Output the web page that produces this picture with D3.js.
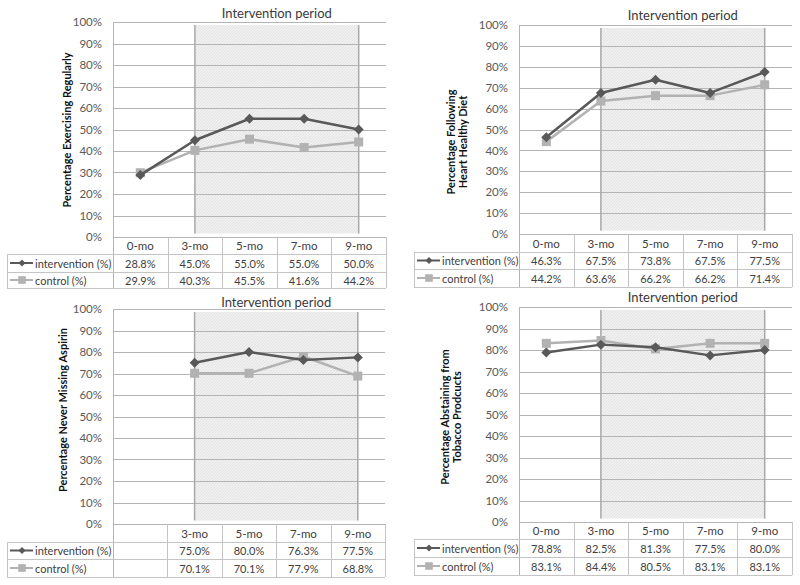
<!DOCTYPE html>
<html>
<head>
<meta charset="utf-8">
<script src="https://cdn.jsdelivr.net/npm/d3@7"></script>
<style>
  html, body { margin: 0; padding: 0; background: #fff; }
  svg { display: block; }
  text { font-family: Lato, "Open Sans", sans-serif; }
</style>
</head>
<body>
<svg id="chart" width="800" height="585"></svg>
<script>
// ---------------- data ----------------
const categories = ["0-mo", "3-mo", "5-mo", "7-mo", "9-mo"];
const aspirinCategories = ["", "3-mo", "5-mo", "7-mo", "9-mo"];
const seriesNames = ["intervention (%)", "control (%)"];
const periodLabel = "Intervention period";
const periodRange = ["3-mo", "9-mo"];
const yTicks = [0, 10, 20, 30, 40, 50, 60, 70, 80, 90, 100];

const exerciseIntervention = [28.8, 45.0, 55.0, 55.0, 50.0];
const exerciseControl      = [29.9, 40.3, 45.5, 41.6, 44.2];
const dietIntervention     = [46.3, 67.5, 73.8, 67.5, 77.5];
const dietControl          = [44.2, 63.6, 66.2, 66.2, 71.4];
const aspirinIntervention  = [null, 75.0, 80.0, 76.3, 77.5];
const aspirinControl       = [null, 70.1, 70.1, 77.9, 68.8];
const tobaccoIntervention  = [78.8, 82.5, 81.3, 77.5, 80.0];
const tobaccoControl       = [83.1, 84.4, 80.5, 83.1, 83.1];

const yTitleExercise = ["Percentage Exercising Regularly"];
const yTitleDiet     = ["Percentage Following", "Heart Healthy Diet"];
const yTitleAspirin  = ["Percentage Never Missing Aspirin"];
const yTitleTobacco  = ["Percentage Abstaining from", "Tobacco Prodcucts"];

// ---------------- layout ----------------
const panels = [
  { cats: categories, series: [exerciseIntervention, exerciseControl], title: yTitleExercise,
    plotL: 113, plotR: 386, y100: 22, y0: 237, rows: [237, 254, 272, 288], legL: 7,
    titleY: 13, yTitleX: 67, yTitleY: 130 },
  { cats: categories, series: [dietIntervention, dietControl], title: yTitleDiet,
    plotL: 519, plotR: 792, y100: 25, y0: 234, rows: [234, 252, 269, 287], legL: 414,
    titleY: 15, yTitleX: 457, yTitleY: 142 },
  { cats: aspirinCategories, series: [aspirinIntervention, aspirinControl], title: yTitleAspirin,
    plotL: 113, plotR: 385, y100: 309, y0: 524, rows: [524, 542, 559, 577], legL: 7,
    titleY: 302, yTitleX: 63, yTitleY: 410 },
  { cats: categories, series: [tobaccoIntervention, tobaccoControl], title: yTitleTobacco,
    plotL: 519, plotR: 792, y100: 307, y0: 522, rows: [522, 539, 557, 575], legL: 414,
    titleY: 297, yTitleX: 451, yTitleY: 417 }
];

const styles = [
  { color: "#595959", width: 2.5, marker: "diamond" },
  { color: "#b2b2b2", width: 2.5, marker: "square" }
];
const gridColor = "#b4b4b4";
const tableColor = "#c4c4c4";

const svg = d3.select("#chart");

// fine hatch pattern for intervention period
const defs = svg.append("defs");
const pat = defs.append("pattern").attr("id", "hatch")
  .attr("patternUnits", "userSpaceOnUse").attr("width", 3).attr("height", 3);
pat.append("rect").attr("width", 3).attr("height", 3).attr("fill", "#f0f0f0");
pat.append("path").attr("d", "M0,3 L3,0").attr("stroke", "#e0e0e0").attr("stroke-width", 0.8);

function markerPath(type, r) {
  if (type === "diamond") return `M0,${-r}L${r},0L0,${r}L${-r},0Z`;
  return `M${-r},${-r}H${r}V${r}H${-r}Z`;
}

panels.forEach(p => {
  const g = svg.append("g");
  const x = d3.scaleBand().domain(p.cats).range([p.plotL, p.plotR]).padding(0);
  const xc = c => x(c) + x.bandwidth() / 2;
  const y = d3.scaleLinear().domain([0, 100]).range([p.y0, p.y100]);

  // shaded intervention period
  const sx0 = xc(periodRange[0]), sx1 = xc(periodRange[1]);
  g.append("rect")
    .attr("x", sx0).attr("y", y(98.6))
    .attr("width", sx1 - sx0).attr("height", y(1.6) - y(98.6))
    .attr("fill", "url(#hatch)");

  // gridlines
  g.append("g").selectAll("line").data(yTicks.filter(t => t > 0)).join("line")
    .attr("x1", p.plotL).attr("x2", p.plotR)
    .attr("y1", d => Math.round(y(d)) + 0.5).attr("y2", d => Math.round(y(d)) + 0.5)
    .attr("stroke", gridColor).attr("stroke-width", 1);

  // period borders
  [sx0, sx1].forEach(sx => {
    g.append("line").attr("x1", sx).attr("x2", sx)
      .attr("y1", y(98.6)).attr("y2", y(1.6))
      .attr("stroke", "#a8a8a8").attr("stroke-width", 1.5);
  });

  // period title
  g.append("text").attr("x", (sx0 + sx1) / 2).attr("y", p.titleY)
    .attr("text-anchor", "middle").attr("dominant-baseline", "central")
    .attr("font-size", 13).attr("fill", "#3a3a3a").text(periodLabel);

  // y axis labels
  const yAxis = d3.axisLeft(y).tickValues(yTicks).tickFormat(d => d + "%").tickSize(0).tickPadding(11);
  const ya = g.append("g").attr("transform", `translate(${p.plotL},0)`).call(yAxis);
  ya.select(".domain").remove();
  ya.selectAll("text").attr("font-size", 11.5).attr("fill", "#595959")
    .attr("font-family", "Lato, 'Open Sans', sans-serif");

  // y title
  const yt = g.append("text")
    .attr("transform", `translate(${p.yTitleX},${p.yTitleY}) rotate(-90)`)
    .attr("text-anchor", "middle").attr("font-weight", "bold")
    .attr("font-size", 11).attr("fill", "#111");
  const n = p.title.length;
  p.title.forEach((t, i) => {
    yt.append("tspan").attr("x", 0).attr("y", (i - (n - 1) / 2) * 12.5).attr("dy", "0.35em").text(t);
  });

  // ---- table ----
  const [r0, r1, r2, r3] = p.rows;
  const tl = g.append("g").attr("stroke", tableColor).attr("stroke-width", 1).attr("fill", "none");
  tl.append("line").attr("x1", p.plotL + 0.5).attr("x2", p.plotL + 0.5).attr("y1", p.y100).attr("y2", r3)
    .attr("stroke", gridColor);
  tl.append("line").attr("x1", p.plotL).attr("x2", p.plotR).attr("y1", r0 + 0.5).attr("y2", r0 + 0.5)
    .attr("stroke", gridColor);
  [r1, r2, r3].forEach(r => {
    tl.append("line").attr("x1", p.legL).attr("x2", p.plotR).attr("y1", r + 0.5).attr("y2", r + 0.5);
  });
  tl.append("line").attr("x1", p.legL + 0.5).attr("x2", p.legL + 0.5).attr("y1", r1).attr("y2", r3);
  p.cats.forEach(c => {
    const xx = Math.round(x(c) + x.bandwidth()) + 0.5;
    tl.append("line").attr("x1", xx).attr("x2", xx).attr("y1", r0).attr("y2", r3);
  });

  // header labels
  g.append("g").selectAll("text").data(p.cats).join("text")
    .attr("x", d => xc(d)).attr("y", (r0 + r1) / 2)
    .attr("text-anchor", "middle").attr("dominant-baseline", "central")
    .attr("font-size", 11.5).attr("fill", "#404040").text(d => d);

  const rowMid = [(r1 + r2) / 2, (r2 + r3) / 2];
  p.series.forEach((vals, si) => {
    const st = styles[si];
    g.append("g").selectAll("text").data(vals.map((v, i) => ({ v, c: p.cats[i] })).filter(d => d.v != null))
      .join("text")
      .attr("x", d => xc(d.c)).attr("y", rowMid[si])
      .attr("text-anchor", "middle").attr("dominant-baseline", "central")
      .attr("font-size", 11).attr("fill", "#404040").text(d => d.v.toFixed(1) + "%");
    g.append("line").attr("x1", p.legL + 3).attr("x2", p.legL + 26)
      .attr("y1", rowMid[si]).attr("y2", rowMid[si])
      .attr("stroke", st.color).attr("stroke-width", 2);
    g.append("path").attr("d", markerPath(st.marker, st.marker === "diamond" ? 3.5 : 3.8))
      .attr("transform", `translate(${p.legL + 15},${rowMid[si]})`).attr("fill", st.color);
    g.append("text").attr("x", p.legL + 28).attr("y", rowMid[si])
      .attr("dominant-baseline", "central").attr("font-size", 11).attr("fill", "#404040")
      .text(seriesNames[si]);
  });

  // lines and markers
  [1, 0].forEach(si => {
    const st = styles[si];
    const pts = p.series[si].map((v, i) => ({ v, c: p.cats[i] }));
    const line = d3.line().defined(d => d.v != null).x(d => xc(d.c)).y(d => y(d.v));
    g.append("path").datum(pts).attr("d", line)
      .attr("fill", "none").attr("stroke", st.color).attr("stroke-width", st.width)
      .attr("stroke-linejoin", "round");
    g.append("g").selectAll("path").data(pts.filter(d => d.v != null)).join("path")
      .attr("d", markerPath(st.marker, st.marker === "diamond" ? 5 : 4.5))
      .attr("transform", d => `translate(${xc(d.c)},${y(d.v)})`)
      .attr("fill", st.color);
  });
});
</script>
</body>
</html>
